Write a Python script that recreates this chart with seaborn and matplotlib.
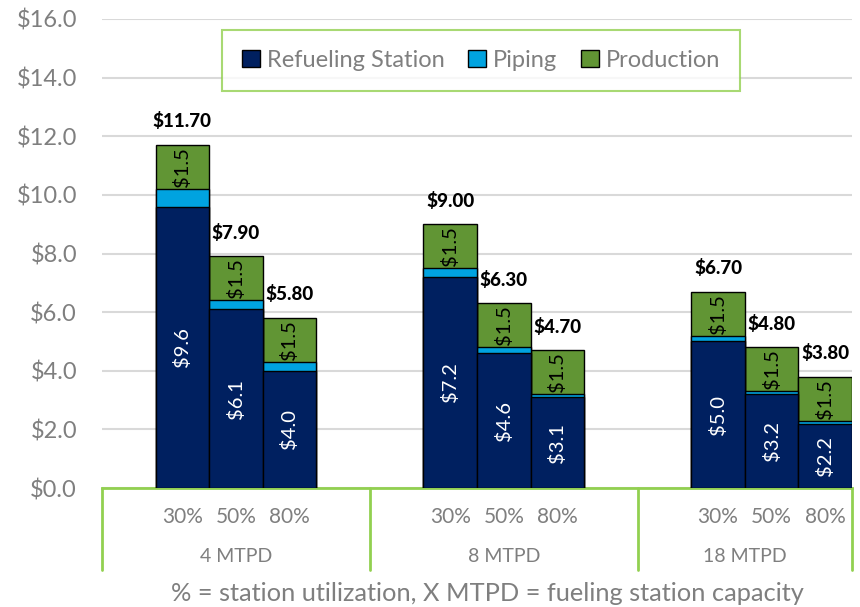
import pandas as pd
import matplotlib
matplotlib.use("Agg")
import matplotlib.pyplot as plt
import matplotlib.transforms as mtransforms
from matplotlib.patches import Patch
import seaborn as sns

# data
capacities = ["4 MTPD", "8 MTPD", "18 MTPD"]
utilizations = ["30%", "50%", "80%"]
refueling = [9.6, 6.1, 4.0, 7.2, 4.6, 3.1, 5.0, 3.2, 2.2]
piping = [0.6, 0.3, 0.3, 0.3, 0.2, 0.1, 0.2, 0.1, 0.1]
production = [1.5, 1.5, 1.5, 1.5, 1.5, 1.5, 1.5, 1.5, 1.5]
totals = [11.70, 7.90, 5.80, 9.00, 6.30, 4.70, 6.70, 4.80, 3.80]

NAVY = "#002060"
BLUE = "#00A3E0"
GREEN = "#619534"
LIME = "#92D050"
GREY = "#7F7F7F"

rows = []
for i, cap in enumerate(capacities):
    for j, util in enumerate(utilizations):
        k = i * 3 + j
        rows.append({"slot": f"{cap} {util}", "cap": cap, "util": util,
                     "refuel": refueling[k], "piping": piping[k],
                     "production": production[k], "total": totals[k]})
df = pd.DataFrame(rows)
df["refuel_piping"] = df["refuel"] + df["piping"]
df["stack_top"] = df["refuel_piping"] + df["production"]

# category slots, with empty slots between the capacity groups (like the Excel sheet)
order = ["gap0"] + [f"4 MTPD {u}" for u in utilizations] + ["gap1", "gap2"] \
    + [f"8 MTPD {u}" for u in utilizations] + ["gap3", "gap4"] \
    + [f"18 MTPD {u}" for u in utilizations]

sns.set_style("white")
plt.rcParams["font.family"] = ["Lato", "DejaVu Sans"]

fig = plt.figure(figsize=(8.6, 6.07), dpi=100)
ax = fig.add_axes([0.1186, 0.196, 0.8721, 0.7727])

for col, color in [("stack_top", GREEN), ("refuel_piping", BLUE), ("refuel", NAVY)]:
    sns.barplot(data=df, x="slot", y=col, order=order, color=color, saturation=1,
                width=1, edgecolor="black", linewidth=1, errorbar=None, ax=ax, zorder=3)

ax.set_xlim(-0.5, len(order) - 0.5)
ax.set_ylim(0, 16)
ax.set_yticks([0, 2, 4, 6, 8, 10, 12, 14, 16])
ax.set_yticklabels([f"${v:.1f}" for v in ax.get_yticks()], fontsize=17, color=GREY)
ax.tick_params(axis="y", length=0, pad=18)
ax.yaxis.grid(True, color="#D9D9D9", linewidth=1.5, zorder=0)
ax.set_axisbelow(True)
ax.set_xticks([])
ax.set_xlabel("")
ax.set_ylabel("")
for s in ["left", "right", "top"]:
    ax.spines[s].set_visible(False)
ax.spines["bottom"].set_color(LIME)
ax.spines["bottom"].set_linewidth(2)

# labels in and above the bars
for _, r in df.iterrows():
    x = order.index(r["slot"])
    ax.text(x, r["refuel"] / 2, f"${r['refuel']:.1f}", rotation=90, ha="center",
            va="center", color="white", fontsize=14.5, zorder=5)
    ax.text(x, r["refuel_piping"] + r["production"] / 2, f"${r['production']:.1f}",
            rotation=90, ha="center", va="center", color="black", fontsize=14.5, zorder=5)
    ax.text(x, r["stack_top"] + 0.5, f"${r['total']:.2f}", ha="center", va="bottom",
            color="black", fontsize=13.5, fontweight="black", zorder=5)

# multi-level category axis
trans = mtransforms.blended_transform_factory(ax.transData, ax.transAxes)
for _, r in df.iterrows():
    ax.text(order.index(r["slot"]), -0.062, r["util"], transform=trans, ha="center",
            va="center", fontsize=15, color=GREY)
bounds = [-0.5, 4.5, 9.5, len(order) - 0.5]
for i, cap in enumerate(capacities):
    ax.text((bounds[i] + bounds[i + 1]) / 2, -0.147, cap, transform=trans, ha="center",
            va="center", fontsize=14, color=GREY)
for b in bounds:
    ax.plot([b, b], [0, -0.175], transform=trans, color=LIME, linewidth=2, clip_on=False)

fig.text(0.567, 0.023, "% = station utilization, X MTPD = fueling station capacity",
         ha="center", va="center", fontsize=18.3, color=GREY)

handles = [Patch(facecolor=NAVY, edgecolor="black", label="Refueling Station"),
           Patch(facecolor=BLUE, edgecolor="black", label="Piping"),
           Patch(facecolor=GREEN, edgecolor="black", label="Production")]
leg = fig.legend(handles=handles, loc="center", bbox_to_anchor=(0.5593, 0.9003), ncol=3,
                 fontsize=17, frameon=True, fancybox=False, handlelength=0.75,
                 handleheight=0.75, handletextpad=0.3, columnspacing=1.0,
                 borderpad=0.85, labelcolor=GREY)
leg.get_frame().set_edgecolor(LIME)
leg.get_frame().set_linewidth(1.5)

fig.savefig("out.png", dpi=100)
